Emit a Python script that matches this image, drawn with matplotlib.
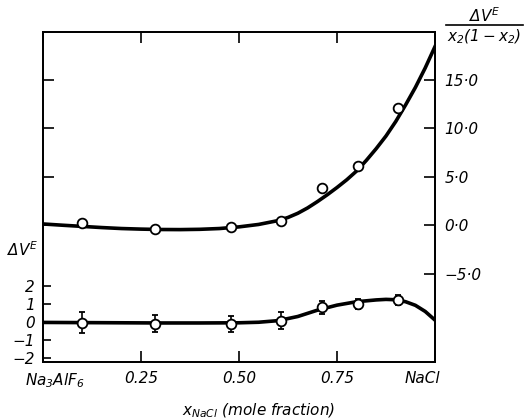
import matplotlib
matplotlib.use("Agg")
import matplotlib.pyplot as plt
import matplotlib.transforms as mtransforms
from matplotlib.lines import Line2D

# measured points (same compositions for both curves)
X_POINTS = [0.10, 0.285, 0.48, 0.607, 0.711, 0.803, 0.905]
RATIO_POINTS = [0.28, -0.40, -0.18, 0.50, 3.85, 6.15, 12.1]
DV_POINTS = [-0.04, -0.11, -0.11, 0.07, 0.81, 1.00, 1.22]
DV_ERR = [0.58, 0.47, 0.46, 0.46, 0.35, 0.28, 0.28]

# fitted curves
RATIO_CURVE_X = [0.0, 0.05, 0.10, 0.15, 0.20, 0.25, 0.30, 0.35, 0.40, 0.45, 0.50,
                 0.55, 0.60, 0.625, 0.65, 0.675, 0.70, 0.725, 0.75, 0.775, 0.80,
                 0.825, 0.85, 0.875, 0.90, 0.925, 0.95, 0.975, 1.0]
RATIO_CURVE = [0.15, 0.02, -0.10, -0.22, -0.32, -0.38, -0.42, -0.43, -0.40, -0.32, -0.15,
               0.10, 0.50, 0.82, 1.25, 1.80, 2.45, 3.15, 3.90, 4.70, 5.60,
               6.70, 7.90, 9.20, 10.7, 12.4, 14.2, 16.2, 18.4]
DV_CURVE_X = [0.0, 0.1, 0.2, 0.3, 0.4, 0.5, 0.55, 0.6, 0.65, 0.7, 0.75, 0.8,
              0.85, 0.875, 0.9, 0.925, 0.95, 0.975, 1.0]
DV_CURVE = [-0.03, -0.04, -0.05, -0.06, -0.06, -0.05, -0.02, 0.07, 0.30, 0.65, 0.93, 1.12,
            1.22, 1.25, 1.23, 1.12, 0.92, 0.58, 0.10]

X_TICKS = [0.0, 0.25, 0.50, 0.75, 1.0]
X_LABELS = [r"$Na_3AlF_6$", "0.25", "0.50", "0.75", "NaCl"]
LEFT_TICKS = [-2, -1, 0, 1, 2]
RIGHT_TICKS = [-5, 0, 5, 10, 15]
RIGHT_LABELS = ["\u22125\u00b70", "0\u00b70", "5\u00b70", "10\u00b70", "15\u00b70"]
LEFT_EXTRA_TICKS = [0, 5, 10, 15]  # unlabelled, on right-axis scale

LEFT_LIM = (-2.2, 16.1)
RIGHT_LIM = (-14.0, 19.9)

plt.rcParams["font.family"] = "DejaVu Sans"
plt.rcParams["font.style"] = "italic"
plt.rcParams["mathtext.fontset"] = "dejavusans"
plt.rcParams["font.size"] = 11

fig = plt.figure(figsize=(5.27, 4.20), dpi=100)
ax = fig.add_axes([43 / 527, 1 - 361.5 / 420, 392 / 527, 329.5 / 420])
ax2 = ax.twinx()

for a in (ax, ax2):
    for sp in a.spines.values():
        sp.set_linewidth(1.3)

# lower curve: dV^E, left axis
ax.plot(DV_CURVE_X, DV_CURVE, color="black", linewidth=2.6, zorder=2,
        solid_joinstyle="round")
ax.errorbar(X_POINTS, DV_POINTS, yerr=DV_ERR, fmt="o", markersize=7,
            markerfacecolor="white", markeredgecolor="black", markeredgewidth=1.3,
            ecolor="black", elinewidth=1.2, capsize=2.5, capthick=1.2, zorder=3)

# upper curve: dV^E / x2(1-x2), right axis
ax2.plot(RATIO_CURVE_X, RATIO_CURVE, color="black", linewidth=2.6, zorder=2,
         solid_joinstyle="round")
ax2.plot(X_POINTS, RATIO_POINTS, "o", markersize=7, markerfacecolor="white",
         markeredgecolor="black", markeredgewidth=1.3, zorder=3)

ax.set_xlim(0, 1)
ax.set_ylim(*LEFT_LIM)
ax2.set_ylim(*RIGHT_LIM)

ax.set_xticks(X_TICKS)
ax.set_xticklabels(X_LABELS)
ax.tick_params(axis="x", which="both", direction="in", length=8, width=1.2,
               top=True, pad=7)
ax.set_yticks(LEFT_TICKS)
ax.set_yticklabels([str(t).replace("-", "\u2212") for t in LEFT_TICKS])
ax.tick_params(axis="y", direction="in", length=6, width=1.2, pad=6)

# unlabelled left ticks matching right scale
lo1, hi1 = LEFT_LIM
lo2, hi2 = RIGHT_LIM
extra = [lo1 + (v - lo2) * (hi1 - lo1) / (hi2 - lo2) for v in LEFT_EXTRA_TICKS]
ax.set_yticks(extra, minor=True)
ax.tick_params(axis="y", which="minor", direction="in", length=8, width=1.2)

ax2.set_yticks(RIGHT_TICKS)
ax2.set_yticklabels(RIGHT_LABELS)
ax2.tick_params(axis="y", direction="in", length=8, width=1.2, pad=7)

# shift end labels like the original
labels = ax.get_xticklabels()
labels[0].set_transform(labels[0].get_transform() +
                        mtransforms.ScaledTranslation(0.12, 0, fig.dpi_scale_trans))
labels[-1].set_transform(labels[-1].get_transform() +
                         mtransforms.ScaledTranslation(-0.13, 0, fig.dpi_scale_trans))

fig.text(259 / 527, 1 - 411 / 420, r"$x_{NaCl}$ (mole fraction)", ha="center",
         va="center", fontsize=11)
fig.text(23 / 527, 1 - 250 / 420, r"$\Delta V^E$", ha="center", va="center", fontsize=11)

fig.text(485 / 527, 1 - 16 / 420, r"$\Delta V^E$", ha="center", va="center", fontsize=11)
fig.lines.append(Line2D([446 / 527, 523 / 527], [1 - 25 / 420, 1 - 25 / 420],
                        transform=fig.transFigure, color="black", linewidth=1.2))
fig.text(484 / 527, 1 - 37 / 420, r"$x_2(1-x_2)$", ha="center", va="center", fontsize=11)

fig.savefig("out.png", dpi=100)
